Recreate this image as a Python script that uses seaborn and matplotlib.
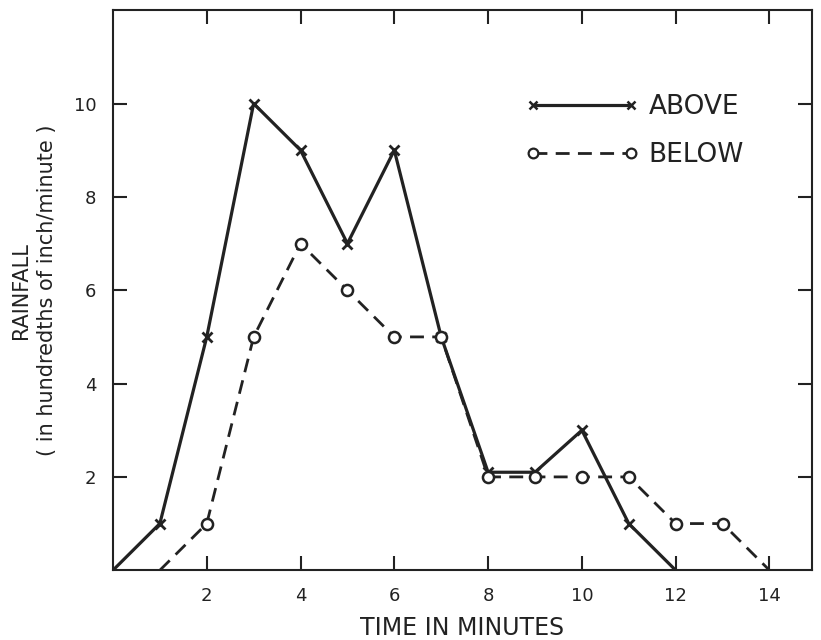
import matplotlib
matplotlib.use("Agg")
import matplotlib.pyplot as plt
from matplotlib.lines import Line2D
import seaborn as sns
import pandas as pd

above_t = [0, 1, 2, 3, 4, 5, 6, 7, 8, 9, 10, 11, 12]
above_v = [0, 1, 5, 10, 9, 7, 9, 5, 2.1, 2.1, 3, 1, 0]
below_t = [1, 2, 3, 4, 5, 6, 7, 8, 9, 10, 11, 12, 13, 14]
below_v = [0, 1, 5, 7, 6, 5, 5, 2, 2, 2, 2, 1, 1, 0]
x_ticks = [2, 4, 6, 8, 10, 12, 14]
y_ticks = [2, 4, 6, 8, 10]

sns.set_theme(style="white")
plt.rcParams['font.family'] = ['DejaVu Sans']

fig = plt.figure(figsize=(8.21, 6.4), dpi=100)
ax = fig.add_axes([0.1376, 0.109, 0.851, 0.875])

c = "#222222"
sns.lineplot(x=above_t, y=above_v, ax=ax, color=c, lw=2.3, marker='x', ms=7, mew=2, mec=c,
             markevery=list(range(1, len(above_t) - 1)), sort=False, estimator=None)
sns.lineplot(x=below_t, y=below_v, ax=ax, color=c, lw=2.0, linestyle=(0, (5, 3)), marker='o', ms=8,
             mfc='white', mec=c, mew=1.8, markevery=list(range(1, len(below_t) - 1)),
             sort=False, estimator=None)

ax.set_xlim(0, 14.9)
ax.set_ylim(0, 12)
ax.set_xticks(x_ticks)
ax.set_yticks(y_ticks)
ax.tick_params(direction='in', length=10, width=1.5, color=c, labelsize=13, labelcolor=c,
               top=True, right=True, bottom=True, left=True, pad=12)
for s in ax.spines.values():
    s.set_color(c)
    s.set_linewidth(1.5)

ax.set_xlabel("TIME IN MINUTES", fontsize=17, color=c, labelpad=8)
ax.set_ylabel("RAINFALL\n( in hundredths of inch/minute )", fontsize=15, color=c, labelpad=12,
              linespacing=1.4)

handles = [
    Line2D([], [], color=c, lw=2.3, marker='x', ms=6, mew=1.8, mec=c),
    Line2D([], [], color=c, lw=2.0, linestyle=(0, (5, 3)), marker='o', ms=7, mfc='white', mec=c,
           mew=1.6),
]
ax.legend(handles, ["ABOVE", "BELOW"], numpoints=2, frameon=False, fontsize=19,
          handlelength=4.3, handletextpad=0.38, labelspacing=0.84, borderpad=0.4,
          loc='upper left', bbox_to_anchor=(0.556, 0.893), labelcolor=c)

fig.savefig("out.png", dpi=100, facecolor='white')
